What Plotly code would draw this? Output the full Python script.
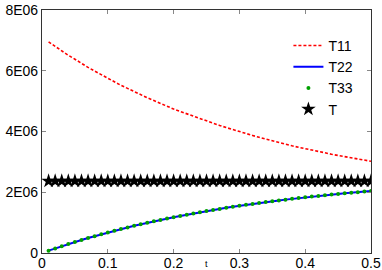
import plotly.graph_objects as go

t = [round(0.01 * i, 2) for i in range(1, 51)]

# values in units of 1E06
T11 = [6.95, 6.80, 6.65, 6.51, 6.38, 6.24, 6.11, 5.99, 5.87, 5.75,
       5.64, 5.52, 5.42, 5.31, 5.21, 5.11, 5.02, 4.92, 4.83, 4.74,
       4.66, 4.58, 4.50, 4.42, 4.34, 4.27, 4.20, 4.13, 4.06, 3.99,
       3.93, 3.87, 3.81, 3.75, 3.69, 3.64, 3.59, 3.53, 3.48, 3.44,
       3.39, 3.34, 3.30, 3.25, 3.21, 3.17, 3.13, 3.09, 3.06, 3.02]
T22 = [0.077, 0.151, 0.224, 0.294, 0.362, 0.428, 0.493, 0.555, 0.616, 0.675,
       0.732, 0.788, 0.842, 0.894, 0.945, 0.994, 1.042, 1.089, 1.134, 1.178,
       1.221, 1.262, 1.302, 1.341, 1.379, 1.416, 1.452, 1.487, 1.520, 1.553,
       1.585, 1.616, 1.646, 1.675, 1.703, 1.730, 1.757, 1.783, 1.808, 1.832,
       1.856, 1.879, 1.901, 1.923, 1.944, 1.965, 1.985, 2.004, 2.022, 2.041]
T33 = list(T22)
T = [2.37] * 50

y_tickvals = [0, 2e6, 4e6, 6e6, 8e6]
y_ticktext = ["0", "2E06", "4E06", "6E06", "8E06"]
x_tickvals = [0, 0.1, 0.2, 0.3, 0.4, 0.5]
x_ticktext = ["0", "0.1", "0.2", "0.3", "0.4", "0.5"]

scale = 1e6
fig = go.Figure()
fig.add_trace(go.Scatter(x=t, y=[v * scale for v in T11], mode="lines", name="T11",
                         line=dict(color="#ff0000", width=1.6, dash="3px,2px")))
fig.add_trace(go.Scatter(x=t, y=[v * scale for v in T22], mode="lines", name="T22",
                         line=dict(color="#0000ff", width=2)))
fig.add_trace(go.Scatter(x=t, y=[v * scale for v in T33], mode="markers", name="T33",
                         marker=dict(color="#00a000", size=4, symbol="circle")))
fig.add_trace(go.Scatter(x=t, y=[v * scale for v in T], mode="markers", name="T",
                         marker=dict(color="#000000", size=11, symbol="star")))

fig.update_layout(
    width=382, height=270,
    margin=dict(l=42, r=11, t=10, b=17, autoexpand=False),
    plot_bgcolor="white", paper_bgcolor="white",
    font=dict(family="Liberation Sans, Arial, sans-serif", size=14, color="#000"),
    showlegend=True,
    legend=dict(x=0.749, y=0.918, xanchor="left", yanchor="top",
                bgcolor="rgba(0,0,0,0)", font=dict(size=14),
                tracegroupgap=0, itemwidth=30),
    annotations=[dict(text="t", x=0.5, y=-0.046, xref="paper", yref="paper",
                      xanchor="center", yanchor="middle", showarrow=False,
                      borderpad=0, font=dict(size=9))],
)
fig.update_xaxes(range=[0, 0.5], tickvals=x_tickvals, ticktext=x_ticktext,
                 ticks="inside", ticklen=4, tickcolor="#888", showgrid=False,
                 zeroline=False, showline=True, linecolor="#333", linewidth=1.2,
                 mirror="ticks", tickfont=dict(size=14), automargin=False,
                 ticklabelstandoff=-3)
fig.update_yaxes(range=[0, 8e6], tickvals=y_tickvals, ticktext=y_ticktext,
                 ticks="inside", ticklen=4, tickcolor="#888", showgrid=False,
                 zeroline=False, showline=True, linecolor="#333", linewidth=1.2,
                 mirror="ticks", tickfont=dict(size=14), automargin=False)

fig.write_html("out.html", config={"displayModeBar": False},
               post_script="document.body.style.margin='0';")
